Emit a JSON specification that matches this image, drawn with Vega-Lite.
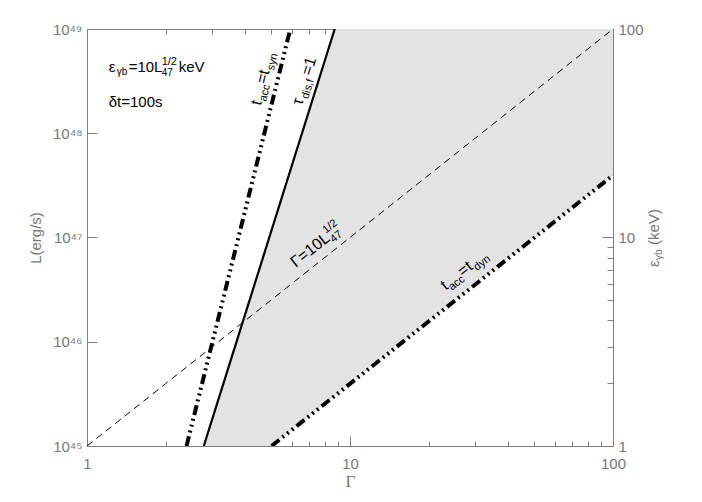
{
  "$schema": "https://vega.github.io/schema/vega-lite/v6.json",
  "width": 526,
  "height": 417,
  "autosize": {"type": "none"},
  "padding": {"left": 87, "top": 29, "right": 89, "bottom": 56},
  "background": "white",
  "config": {
    "view": {"stroke": null},
    "axis": {
      "grid": false,
      "domainColor": "#808080",
      "tickColor": "#808080",
      "labelColor": "#777777",
      "titleColor": "#777777",
      "labelFont": "Liberation Sans",
      "titleFont": "Liberation Sans",
      "labelFontSize": 15,
      "titleFontSize": 15,
      "titleFontWeight": "normal",
      "zindex": 1,
      "labelFlush": false,
      "labelOverlap": false
    },
    "text": {"font": "Liberation Sans", "color": "#000000", "align": "left", "baseline": "alphabetic"}
  },
  "datasets": {
    "region": [
      {"G": 2.78, "lo": 1e45, "hi": 1e45},
      {"G": 5.03, "lo": 1e45, "hi": 1.17e47},
      {"G": 8.75, "lo": 3.03e45, "hi": 1e49},
      {"G": 100, "lo": 3.95e47, "hi": 1e49}
    ],
    "lines": [
      {"s": "dash", "G": 1, "L": 1e45},
      {"s": "dash", "G": 100, "L": 1e49},
      {"s": "tau", "G": 2.78, "L": 1e45},
      {"s": "tau", "G": 8.75, "L": 1e49},
      {"s": "syn", "G": 2.39, "L": 1e45},
      {"s": "syn", "G": 5.93, "L": 1e49},
      {"s": "dyn", "G": 5.03, "L": 1e45},
      {"s": "dyn", "G": 100, "L": 3.95e47}
    ],
    "notes": [
      {"id": "eps", "G": 1.209, "L": 3.88e48},
      {"id": "dt", "G": 1.209, "L": 1.79e48},
      {"id": "syn", "G": 4.58, "L": 1.83e48},
      {"id": "tau", "G": 6.55, "L": 1.83e48},
      {"id": "gam", "G": 6.22, "L": 5.11e46},
      {"id": "dyn", "G": 23.1, "L": 3.08e46},
      {"id": "ttl", "G": 149.2, "L": 5.22e46}
    ]
  },
  "layer": [
    {
      "data": {"name": "region"},
      "mark": {"type": "area", "color": "#e3e3e3", "opacity": 1, "clip": true},
      "encoding": {
        "x": {
          "field": "G", "type": "quantitative",
          "scale": {"type": "log", "domain": [1, 100], "nice": false},
          "axis": {
            "orient": "bottom",
            "values": [1, 2, 3, 4, 5, 6, 7, 8, 9, 10, 20, 30, 40, 50, 60, 70, 80, 90, 100],
            "tickSize": {"condition": {"test": "datum.value==1||datum.value==10||datum.value==100", "value": -10}, "value": -5},
            "labelPadding": 20,
            "labelExpr": "datum.value==1?'1':datum.value==10?'10':datum.value==100?'100':''",
            "title": "Γ",
            "titleFont": "Liberation Serif",
            "titleFontSize": 17,
            "titlePadding": -3
          }
        },
        "y": {
          "field": "lo", "type": "quantitative",
          "scale": {"type": "log", "domain": [1e45, 1e49], "nice": false},
          "axis": {
            "orient": "left",
            "values": [1e45, 1e46, 1e47, 1e48, 1e49],
            "tickSize": -10,
            "labelPadding": 15,
            "labelExpr": "datum.value==1e45?'10⁴⁵':datum.value==1e46?'10⁴⁶':datum.value==1e47?'10⁴⁷':datum.value==1e48?'10⁴⁸':'10⁴⁹'",
            "title": "L(erg/s)",
            "titlePadding": 9
          }
        },
        "y2": {"field": "hi"}
      }
    },
    {
      "data": {"name": "lines"},
      "transform": [{"filter": "datum.s=='dash'"}],
      "mark": {"type": "line", "color": "#000000", "strokeWidth": 1, "strokeDash": [7, 5], "clip": true},
      "encoding": {
        "x": {
          "field": "G", "type": "quantitative",
          "axis": {
            "orient": "top",
            "values": [1, 2, 3, 4, 5, 6, 7, 8, 9, 10, 20, 30, 40, 50, 60, 70, 80, 90, 100],
            "tickSize": {"condition": {"test": "datum.value==1||datum.value==10||datum.value==100", "value": -9}, "value": -5},
            "labels": false,
            "title": null
          }
        },
        "y": {
          "field": "L", "type": "quantitative",
          "axis": {
            "orient": "right",
            "values": [1e45, 4e45, 9e45, 1.6e46, 2.5e46, 3.6e46, 4.9e46, 6.4e46, 8.1e46, 1e47, 4e47, 9e47, 1.6e48, 2.5e48, 3.6e48, 4.9e48, 6.4e48, 8.1e48, 1e49],
            "tickSize": {"condition": {"test": "datum.value==1e45||datum.value==1e47||datum.value==1e49", "value": -11}, "value": -6},
            "labelPadding": 16,
            "labelExpr": "datum.value==1e45?'1':datum.value==1e47?'10':datum.value==1e49?'100':''",
            "title": null
          }
        }
      }
    },
    {
      "data": {"name": "lines"},
      "transform": [{"filter": "datum.s=='tau'"}],
      "mark": {"type": "line", "color": "#000000", "strokeWidth": 2.2, "clip": true},
      "encoding": {
        "x": {"field": "G", "type": "quantitative", "axis": null},
        "y": {"field": "L", "type": "quantitative", "axis": null}
      }
    },
    {
      "data": {"name": "lines"},
      "transform": [{"filter": "datum.s=='syn'"}],
      "mark": {"type": "line", "color": "#000000", "strokeWidth": 4, "strokeDash": [10, 4, 2, 4, 2, 4, 2, 4], "clip": true},
      "encoding": {
        "x": {"field": "G", "type": "quantitative", "axis": null},
        "y": {"field": "L", "type": "quantitative", "axis": null}
      }
    },
    {
      "data": {"name": "lines"},
      "transform": [{"filter": "datum.s=='dyn'"}],
      "mark": {"type": "line", "color": "#000000", "strokeWidth": 4, "strokeDash": [10, 4, 2, 4, 2, 4, 2, 4], "clip": true},
      "encoding": {
        "x": {"field": "G", "type": "quantitative", "axis": null},
        "y": {"field": "L", "type": "quantitative", "axis": null}
      }
    },
    {"data": {"name": "notes"}, "transform": [{"filter": "datum.id=='eps'"}], "mark": {"type": "text", "text": "ε", "fontSize": 15}, "encoding": {"x": {"field": "G", "type": "quantitative", "axis": null}, "y": {"field": "L", "type": "quantitative", "axis": null}}},
    {"data": {"name": "notes"}, "transform": [{"filter": "datum.id=='eps'"}], "mark": {"type": "text", "text": "γb", "fontSize": 10, "dx": 8, "dy": 3}, "encoding": {"x": {"field": "G", "type": "quantitative", "axis": null}, "y": {"field": "L", "type": "quantitative", "axis": null}}},
    {"data": {"name": "notes"}, "transform": [{"filter": "datum.id=='eps'"}], "mark": {"type": "text", "text": "=10L", "fontSize": 15, "dx": 20}, "encoding": {"x": {"field": "G", "type": "quantitative", "axis": null}, "y": {"field": "L", "type": "quantitative", "axis": null}}},
    {"data": {"name": "notes"}, "transform": [{"filter": "datum.id=='eps'"}], "mark": {"type": "text", "text": "47", "fontSize": 10, "dx": 53, "dy": 4}, "encoding": {"x": {"field": "G", "type": "quantitative", "axis": null}, "y": {"field": "L", "type": "quantitative", "axis": null}}},
    {"data": {"name": "notes"}, "transform": [{"filter": "datum.id=='eps'"}], "mark": {"type": "text", "text": "1/2", "fontSize": 11, "dx": 53, "dy": -7}, "encoding": {"x": {"field": "G", "type": "quantitative", "axis": null}, "y": {"field": "L", "type": "quantitative", "axis": null}}},
    {"data": {"name": "notes"}, "transform": [{"filter": "datum.id=='eps'"}], "mark": {"type": "text", "text": "keV", "fontSize": 15, "dx": 70}, "encoding": {"x": {"field": "G", "type": "quantitative", "axis": null}, "y": {"field": "L", "type": "quantitative", "axis": null}}},
    {"data": {"name": "notes"}, "transform": [{"filter": "datum.id=='dt'"}], "mark": {"type": "text", "text": "δt=100s", "fontSize": 15}, "encoding": {"x": {"field": "G", "type": "quantitative", "axis": null}, "y": {"field": "L", "type": "quantitative", "axis": null}}},
    {"data": {"name": "notes"}, "transform": [{"filter": "datum.id=='syn'"}], "mark": {"type": "text", "text": "t", "fontSize": 16, "angle": -76}, "encoding": {"x": {"field": "G", "type": "quantitative", "axis": null}, "y": {"field": "L", "type": "quantitative", "axis": null}}},
    {"data": {"name": "notes"}, "transform": [{"filter": "datum.id=='syn'"}], "mark": {"type": "text", "text": "acc", "fontSize": 11, "angle": -76, "dx": 5, "dy": 4}, "encoding": {"x": {"field": "G", "type": "quantitative", "axis": null}, "y": {"field": "L", "type": "quantitative", "axis": null}}},
    {"data": {"name": "notes"}, "transform": [{"filter": "datum.id=='syn'"}], "mark": {"type": "text", "text": "=t", "fontSize": 16, "angle": -76, "dx": 22}, "encoding": {"x": {"field": "G", "type": "quantitative", "axis": null}, "y": {"field": "L", "type": "quantitative", "axis": null}}},
    {"data": {"name": "notes"}, "transform": [{"filter": "datum.id=='syn'"}], "mark": {"type": "text", "text": "syn", "fontSize": 11, "angle": -76, "dx": 37, "dy": 4}, "encoding": {"x": {"field": "G", "type": "quantitative", "axis": null}, "y": {"field": "L", "type": "quantitative", "axis": null}}},
    {"data": {"name": "notes"}, "transform": [{"filter": "datum.id=='tau'"}], "mark": {"type": "text", "text": "τ", "fontSize": 16, "angle": -72.5}, "encoding": {"x": {"field": "G", "type": "quantitative", "axis": null}, "y": {"field": "L", "type": "quantitative", "axis": null}}},
    {"data": {"name": "notes"}, "transform": [{"filter": "datum.id=='tau'"}], "mark": {"type": "text", "text": "dis,f", "fontSize": 11, "angle": -72.5, "dx": 8, "dy": 4}, "encoding": {"x": {"field": "G", "type": "quantitative", "axis": null}, "y": {"field": "L", "type": "quantitative", "axis": null}}},
    {"data": {"name": "notes"}, "transform": [{"filter": "datum.id=='tau'"}], "mark": {"type": "text", "text": "=1", "fontSize": 16, "angle": -72.5, "dx": 31}, "encoding": {"x": {"field": "G", "type": "quantitative", "axis": null}, "y": {"field": "L", "type": "quantitative", "axis": null}}},
    {"data": {"name": "notes"}, "transform": [{"filter": "datum.id=='gam'"}], "mark": {"type": "text", "text": "Γ=10L", "fontSize": 16, "angle": -38.4}, "encoding": {"x": {"field": "G", "type": "quantitative", "axis": null}, "y": {"field": "L", "type": "quantitative", "axis": null}}},
    {"data": {"name": "notes"}, "transform": [{"filter": "datum.id=='gam'"}], "mark": {"type": "text", "text": "47", "fontSize": 11, "angle": -38.4, "dx": 45, "dy": 4}, "encoding": {"x": {"field": "G", "type": "quantitative", "axis": null}, "y": {"field": "L", "type": "quantitative", "axis": null}}},
    {"data": {"name": "notes"}, "transform": [{"filter": "datum.id=='gam'"}], "mark": {"type": "text", "text": "1/2", "fontSize": 11, "angle": -38.4, "dx": 45, "dy": -8}, "encoding": {"x": {"field": "G", "type": "quantitative", "axis": null}, "y": {"field": "L", "type": "quantitative", "axis": null}}},
    {"data": {"name": "notes"}, "transform": [{"filter": "datum.id=='dyn'"}], "mark": {"type": "text", "text": "t", "fontSize": 16, "angle": -38.4}, "encoding": {"x": {"field": "G", "type": "quantitative", "axis": null}, "y": {"field": "L", "type": "quantitative", "axis": null}}},
    {"data": {"name": "notes"}, "transform": [{"filter": "datum.id=='dyn'"}], "mark": {"type": "text", "text": "acc", "fontSize": 11, "angle": -38.4, "dx": 5, "dy": 4}, "encoding": {"x": {"field": "G", "type": "quantitative", "axis": null}, "y": {"field": "L", "type": "quantitative", "axis": null}}},
    {"data": {"name": "notes"}, "transform": [{"filter": "datum.id=='dyn'"}], "mark": {"type": "text", "text": "=t", "fontSize": 16, "angle": -38.4, "dx": 22}, "encoding": {"x": {"field": "G", "type": "quantitative", "axis": null}, "y": {"field": "L", "type": "quantitative", "axis": null}}},
    {"data": {"name": "notes"}, "transform": [{"filter": "datum.id=='dyn'"}], "mark": {"type": "text", "text": "dyn", "fontSize": 11, "angle": -38.4, "dx": 37, "dy": 4}, "encoding": {"x": {"field": "G", "type": "quantitative", "axis": null}, "y": {"field": "L", "type": "quantitative", "axis": null}}},
    {"data": {"name": "notes"}, "transform": [{"filter": "datum.id=='ttl'"}], "mark": {"type": "text", "text": "ε", "fontSize": 15, "angle": -90, "color": "#777777"}, "encoding": {"x": {"field": "G", "type": "quantitative", "axis": null}, "y": {"field": "L", "type": "quantitative", "axis": null}}},
    {"data": {"name": "notes"}, "transform": [{"filter": "datum.id=='ttl'"}], "mark": {"type": "text", "text": "γb", "fontSize": 10, "angle": -90, "dx": 7, "dy": 3, "color": "#777777"}, "encoding": {"x": {"field": "G", "type": "quantitative", "axis": null}, "y": {"field": "L", "type": "quantitative", "axis": null}}},
    {"data": {"name": "notes"}, "transform": [{"filter": "datum.id=='ttl'"}], "mark": {"type": "text", "text": "(keV)", "fontSize": 15, "angle": -90, "dx": 22, "color": "#777777"}, "encoding": {"x": {"field": "G", "type": "quantitative", "axis": null}, "y": {"field": "L", "type": "quantitative", "axis": null}}}
  ]
}
